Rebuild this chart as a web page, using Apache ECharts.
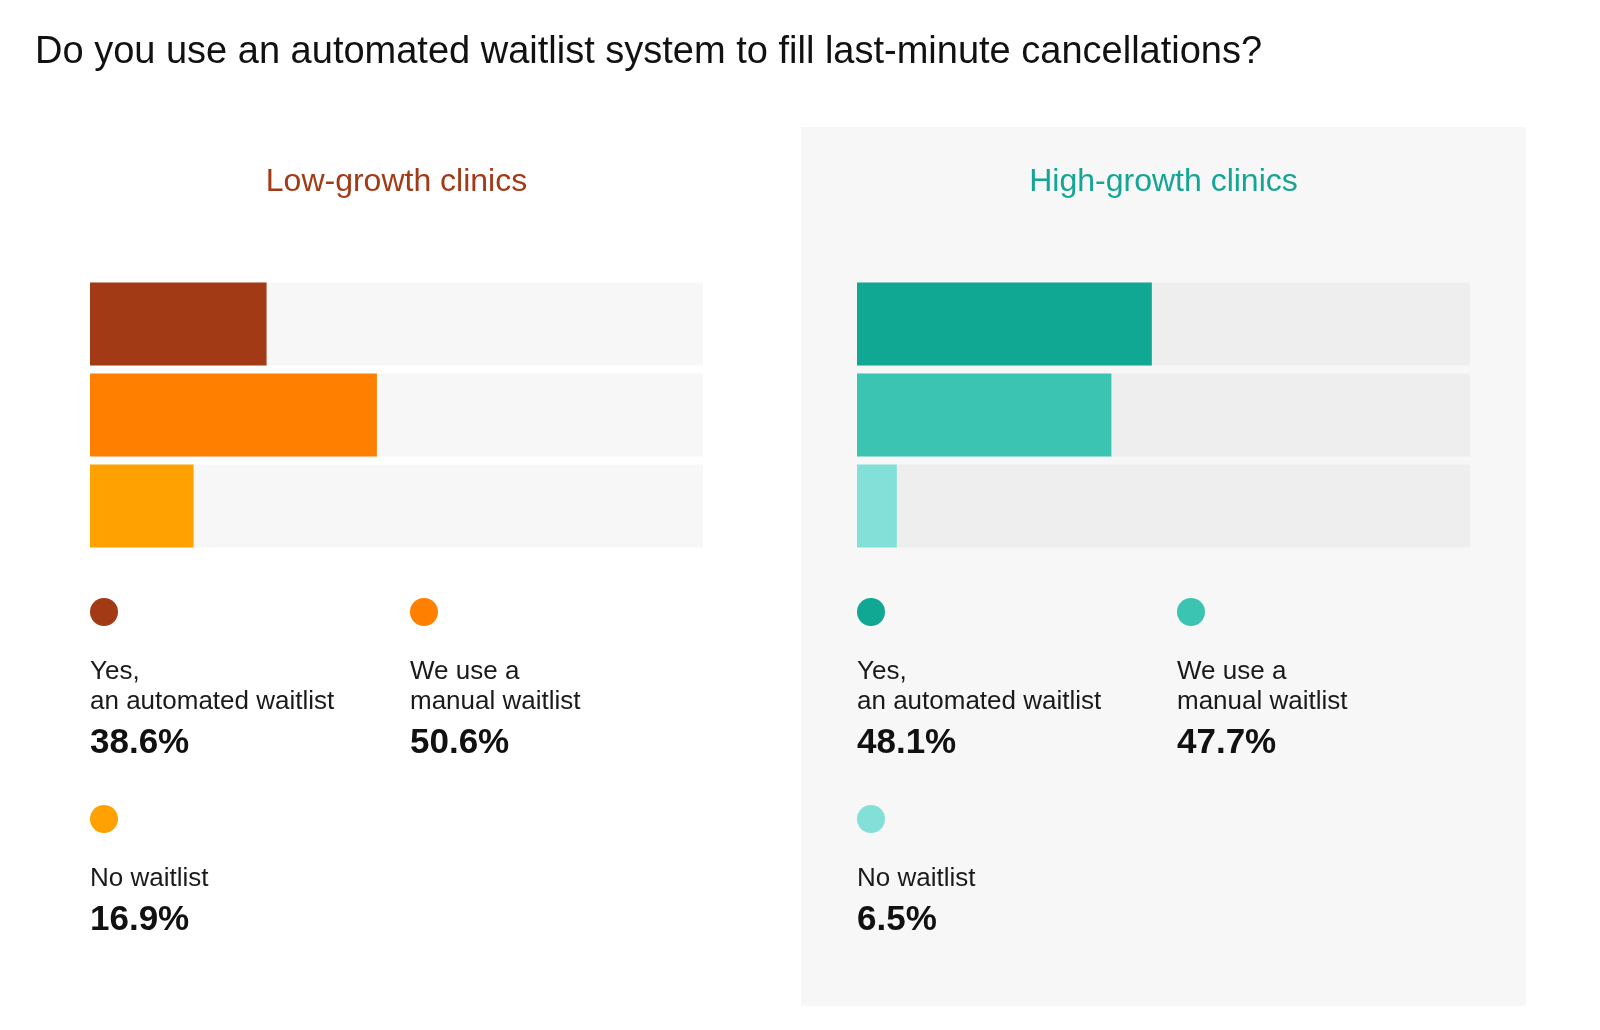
<!DOCTYPE html>
<html><head><meta charset="utf-8">
<script src="https://cdn.jsdelivr.net/npm/echarts@6/dist/echarts.min.js"></script>
<style>html,body{margin:0;padding:0;background:#fff}#c{width:1600px;height:1030px}</style>
</head><body><div id="c"></div>
<script>
const categories = ['Yes, an automated waitlist', 'We use a manual waitlist', 'No waitlist'];
const legendLines = [['Yes,', 'an automated waitlist'], ['We use a', 'manual waitlist'], ['No waitlist']];
const groups = ['Low-growth clinics', 'High-growth clinics'];
// bar lengths as drawn in the picture (% of 0-100 track)
const lowBarValues = [28.8, 46.8, 16.9];
const highBarValues = [48.1, 41.5, 6.5];
// printed percentages
const lowLabels = ['38.6%', '50.6%', '16.9%'];
const highLabels = ['48.1%', '47.7%', '6.5%'];

const lowColors = ['#A33A16', '#FF7F00', '#FFA100'];
const highColors = ['#10A793', '#3CC4B2', '#82E0D9'];
const FONT = '"Liberation Sans", Arial, sans-serif';

const chart = echarts.init(document.getElementById('c'), null, {renderer: 'canvas'});

const panels = [
  {left: 90, bars: lowBarValues, labels: lowLabels, colors: lowColors, track: '#F7F7F7', titleColor: '#A33A16', title: groups[0]},
  {left: 857, bars: highBarValues, labels: highLabels, colors: highColors, track: '#EEEEEE', titleColor: '#14A594', title: groups[1]}
];
const W = 613;

const graphics = [
  {type: 'rect', shape: {x: 801, y: 127, width: 725, height: 879}, style: {fill: '#F7F7F7'}, z: -10, silent: true},
  {type: 'text', x: 35, y: 53, style: {text: 'Do you use an automated waitlist system to fill last-minute cancellations?', font: '38px ' + FONT, fill: '#111', textVerticalAlign: 'middle'}}
];

panels.forEach((p) => {
  graphics.push({type: 'text', x: p.left + W / 2, y: 182, style: {text: p.title, font: '32px ' + FONT, fill: p.titleColor, textAlign: 'center', textVerticalAlign: 'middle'}});
  categories.forEach((c, i) => {
    const col = i % 2, row = Math.floor(i / 2);
    const x = p.left + col * 320;
    const dotY = 612 + row * 207;
    graphics.push({type: 'circle', shape: {cx: x + 14, cy: dotY, r: 14}, style: {fill: p.colors[i]}});
    const lines = legendLines[i];
    let y = dotY + 60;
    lines.forEach((ln, k) => {
      graphics.push({type: 'text', x: x, y: y + k * 30, style: {text: ln, font: '26px ' + FONT, fill: '#1a1a1a', textVerticalAlign: 'middle'}});
    });
    const py = y + (lines.length - 1) * 30 + 41;
    graphics.push({type: 'text', x: x, y: py, style: {text: p.labels[i], font: 'bold 35px ' + FONT, fill: '#111', textVerticalAlign: 'middle'}});
  });
});

const grids = panels.map(p => ({left: p.left, width: W, top: 278.5, height: 273, containLabel: false}));
const xAxes = panels.map((p, i) => ({type: 'value', gridIndex: i, min: 0, max: 100, show: false}));
const yAxes = panels.map((p, i) => ({type: 'category', gridIndex: i, data: categories, inverse: true, show: false}));
const series = panels.map((p, i) => ({
  type: 'bar', xAxisIndex: i, yAxisIndex: i, barWidth: 83,
  showBackground: true, backgroundStyle: {color: p.track},
  data: p.bars.map((v, k) => ({value: v, itemStyle: {color: p.colors[k]}})),
  silent: true
}));

chart.setOption({
  animation: false,
  backgroundColor: '#fff',
  grid: grids, xAxis: xAxes, yAxis: yAxes, series: series,
  graphic: graphics
});
</script></body></html>
